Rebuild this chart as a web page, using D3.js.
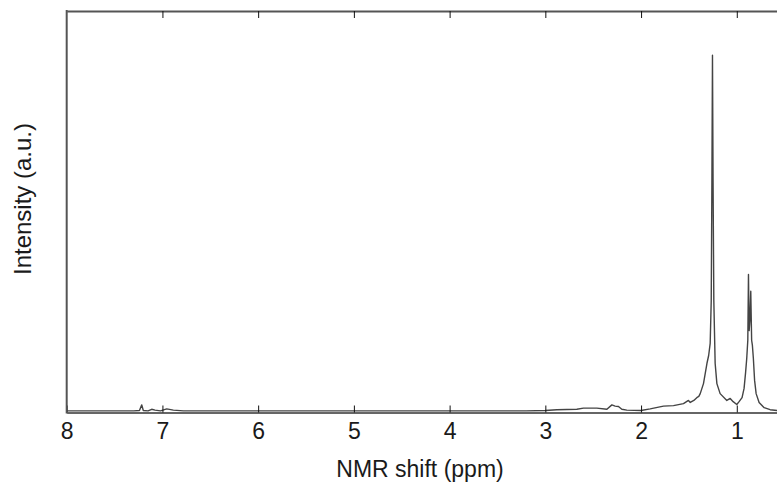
<!DOCTYPE html>
<html>
<head>
<meta charset="utf-8">
<script src="https://cdn.jsdelivr.net/npm/d3@7"></script>
<style>
  body { margin: 0; background: #fff; }
  svg { display: block; font-family: "Liberation Sans", Arial, sans-serif; }
</style>
</head>
<body>
<svg id="chart" width="777" height="483"></svg>
<script>
// chemical shift (ppm) and intensity (a.u.)
const shiftPpm = [
  8.00, 7.60, 7.30, 7.24, 7.216, 7.20, 7.15, 7.112, 7.077, 7.02, 6.955, 6.886, 6.78,
  6.00, 5.00, 4.00, 3.20, 3.00, 2.88, 2.671, 2.602, 2.462, 2.357, 2.305, 2.271, 2.236,
  2.201, 2.149, 2.00, 1.905, 1.766, 1.661, 1.557, 1.505, 1.486, 1.449, 1.418, 1.397,
  1.382, 1.348, 1.312, 1.294, 1.278, 1.267, 1.260, 1.254, 1.248, 1.240, 1.226, 1.208,
  1.174, 1.104, 1.069, 1.038, 1.000, 0.976, 0.945, 0.924, 0.908, 0.896, 0.885, 0.878,
  0.871, 0.863, 0.854, 0.845, 0.837, 0.827, 0.814, 0.798, 0.767, 0.714, 0.652, 0.579
];
const intensity = [
  0.004, 0.004, 0.004, 0.005, 0.019, 0.005, 0.004, 0.008, 0.006, 0.004, 0.009, 0.006, 0.004,
  0.004, 0.004, 0.004, 0.004, 0.005, 0.007, 0.008, 0.011, 0.011, 0.008, 0.019, 0.016, 0.015,
  0.008, 0.006, 0.005, 0.009, 0.016, 0.017, 0.022, 0.030, 0.025, 0.030, 0.037, 0.040,
  0.047, 0.072, 0.122, 0.142, 0.172, 0.279, 0.579, 0.890, 0.579, 0.279, 0.122, 0.072,
  0.047, 0.030, 0.035, 0.027, 0.020, 0.027, 0.037, 0.060, 0.100, 0.135, 0.180, 0.344,
  0.204, 0.229, 0.302, 0.180, 0.167, 0.135, 0.080, 0.047, 0.025, 0.012, 0.007, 0.005
];
const xTicks = [8, 7, 6, 5, 4, 3, 2, 1];
const xDomain = [8, 0.58];

const svg = d3.select('#chart');
const plotLeft = 66.7, plotTop = 11, plotRight = 777, plotBottom = 412.5;

const x = d3.scaleLinear().domain(xDomain).range([plotLeft, plotRight]);
const y = d3.scaleLinear().domain([0, 1]).range([plotBottom, plotTop]);

const spectrum = shiftPpm.map((s, i) => ({s: s, v: intensity[i]}));

// trace
svg.append('path')
  .datum(spectrum)
  .attr('fill', 'none')
  .attr('stroke', '#444')
  .attr('stroke-width', 1.4)
  .attr('stroke-linejoin', 'round')
  .attr('d', d3.line().x(d => x(d.s)).y(d => y(d.v)));

// bottom axis, ticks pointing inward
const xAxis = svg.append('g')
  .attr('transform', `translate(0,${plotBottom})`)
  .call(d3.axisBottom(x).tickValues(xTicks).tickFormat(d3.format('d'))
    .tickSizeInner(-7).tickSizeOuter(0).tickPadding(10));
xAxis.select('.domain').attr('stroke', '#666').attr('stroke-width', 2);
xAxis.selectAll('.tick line').attr('stroke', '#111');
xAxis.selectAll('.tick text')
  .attr('font-size', 23)
  .attr('font-family', '"Liberation Sans", Arial, sans-serif')
  .attr('fill', '#1a1a1a');

// top axis, no labels
const topAxis = svg.append('g')
  .attr('transform', `translate(0,${plotTop})`)
  .call(d3.axisTop(x).tickValues(xTicks.filter(t => t !== 8)).tickFormat('')
    .tickSizeInner(-7).tickSizeOuter(0));
topAxis.select('.domain').attr('stroke', '#555').attr('stroke-width', 2);
topAxis.selectAll('.tick line').attr('stroke', '#111');

// left frame
svg.append('line')
  .attr('x1', plotLeft).attr('x2', plotLeft)
  .attr('y1', plotTop - 1).attr('y2', plotBottom + 1)
  .attr('stroke', '#555').attr('stroke-width', 2);

// axis titles
svg.append('text')
  .attr('x', 420).attr('y', 477)
  .attr('text-anchor', 'middle')
  .attr('font-size', 23)
  .attr('fill', '#1a1a1a')
  .text('NMR shift (ppm)');

svg.append('text')
  .attr('transform', 'translate(30.5,199) rotate(-90)')
  .attr('text-anchor', 'middle')
  .attr('font-size', 24)
  .attr('fill', '#1a1a1a')
  .text('Intensity (a.u.)');
</script>
</body>
</html>
